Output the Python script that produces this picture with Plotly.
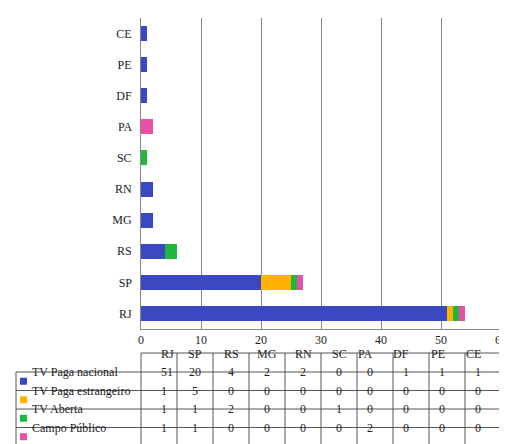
import plotly.graph_objects as go

states = ["RJ", "SP", "RS", "MG", "RN", "SC", "PA", "DF", "PE", "CE"]
series_names = ["TV Paga nacional", "TV Paga estrangeiro", "TV Aberta", "Campo Público"]
paga_nacional = [51, 20, 4, 2, 2, 0, 0, 1, 1, 1]
paga_estrangeiro = [1, 5, 0, 0, 0, 0, 0, 0, 0, 0]
aberta = [1, 1, 2, 0, 0, 1, 0, 0, 0, 0]
campo_publico = [1, 1, 0, 0, 0, 0, 2, 0, 0, 0]
colors = ["#3a48c4", "#ffb300", "#1fb83c", "#ea4fa6"]
x_ticks = [0, 10, 20, 30, 40, 50, 60]

W, H = 507, 444
font = "Liberation Serif"
fig = go.Figure()
all_vals = [paga_nacional, paga_estrangeiro, aberta, campo_publico]
for name, vals, c in zip(series_names, all_vals, colors):
    fig.add_trace(go.Bar(y=states, x=vals, name=name, orientation="h",
                         marker=dict(color=c, line=dict(width=0))))

# data table drawn with shapes + annotations (paper pixels)
X0, XL = 8, 133
CW = 36
row_edges = [345, 364, 382.5, 401, 419.5, 438]
col_edges = [X0, XL] + [XL + CW * (i + 1) for i in range(len(states))]
px = lambda v: v / W
py = lambda v: 1 - v / H
shapes = []
line = dict(color="#555", width=1)
for i, y in enumerate(row_edges):
    x_start = XL if i == 0 else X0
    shapes.append(dict(type="line", xref="paper", yref="paper", x0=px(x_start), x1=px(col_edges[-1]),
                       y0=py(y), y1=py(y), line=line))
for j, x in enumerate(col_edges):
    y_start = row_edges[1] if j == 0 else row_edges[0]
    shapes.append(dict(type="line", xref="paper", yref="paper", x0=px(x), x1=px(x),
                       y0=py(y_start), y1=py(row_edges[-1]), line=line))
ann = []
for j, s in enumerate(states):
    cx = (col_edges[j + 1] + col_edges[j + 2]) / 2
    cy = (row_edges[0] + row_edges[1]) / 2
    ann.append(dict(x=px(cx), y=py(cy), xref="paper", yref="paper", text=s, showarrow=False,
                    font=dict(size=12)))
for r, (name, vals, c) in enumerate(zip(series_names, all_vals, colors)):
    cy = (row_edges[r + 1] + row_edges[r + 2]) / 2
    shapes.append(dict(type="rect", xref="paper", yref="paper", x0=px(12), x1=px(19),
                       y0=py(cy + 3.5), y1=py(cy - 3.5), fillcolor=c, line=dict(width=0)))
    ann.append(dict(x=px(22), y=py(cy), xref="paper", yref="paper", text=name, showarrow=False,
                    xanchor="left", font=dict(size=12)))
    for j, v in enumerate(vals):
        cx = (col_edges[j + 1] + col_edges[j + 2]) / 2
        ann.append(dict(x=px(cx), y=py(cy), xref="paper", yref="paper", text=str(v),
                        showarrow=False, font=dict(size=12)))

fig.update_layout(
    width=W, height=H, barmode="stack", showlegend=False,
    margin=dict(l=0, r=0, t=0, b=0, autoexpand=False), plot_bgcolor="white", paper_bgcolor="white",
    font=dict(family=font, size=12, color="#222"),
    xaxis=dict(domain=[px(133), px(493)], range=[0, 60], tickvals=x_ticks,
               showgrid=True, gridcolor="#888", gridwidth=1, zeroline=False,
               showline=True, linecolor="#888", ticks=""),
    yaxis=dict(domain=[py(321), py(10)], categoryorder="array", categoryarray=states,
               showline=True, linecolor="#888", ticks="", ticksuffix="  "),
    bargap=0.52, shapes=shapes, annotations=ann,
)
fig.write_html("out.html")
